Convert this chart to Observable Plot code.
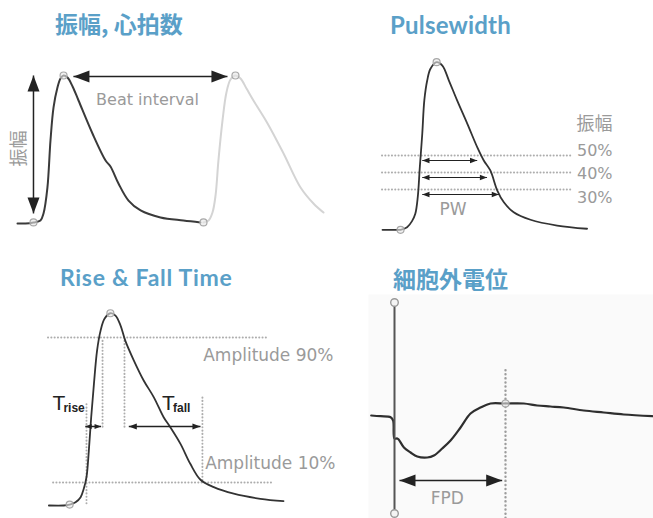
<!DOCTYPE html>
<html><head><meta charset="utf-8">
<script src="https://cdn.jsdelivr.net/npm/d3@7"></script>
<script src="https://cdn.jsdelivr.net/npm/@observablehq/plot@0.6"></script>
<style>
body{margin:0;background:#fff;}
#fig{position:relative;width:653px;height:518px;overflow:hidden;background:#fff;}
.panel{position:absolute;}
.title{position:absolute;color:#5aa0c8;font-weight:700;white-space:nowrap;line-height:1;z-index:2;}
.cjk{font-family:"Noto Sans CJK JP","Noto Sans CJK SC",sans-serif;font-size:23px;}
.lat{font-family:Lato,"Open Sans",sans-serif;}
</style></head><body>
<div id="fig"></div>
<script>
// ---------------- DATA ----------------
// Panel titles
const titles = ["振幅, 心拍数", "Pulsewidth", "Rise & Fall Time", "細胞外電位"];

// Panel 1: time (ms), normalized amplitude (0 = baseline, 1 = peak)
const beat1 = [[0,0],[47,0],[94,0.007],[135,0.02],[153,0.068],[176,0.243],[194,0.561],[212,0.784],[235,0.919],[253,0.98],[271,1],[294,0.986],[324,0.926],[359,0.831],[441,0.608],[518,0.426],[547,0.385],[594,0.27],[653,0.155],[724,0.088],[841,0.041],[976,0.02],[1076,0.007]];
const beat2 = [[1094,0.007],[1124,0.02],[1147,0.074],[1165,0.19],[1182,0.426],[1206,0.696],[1229,0.885],[1253,0.973],[1282,1],[1312,0.98],[1347,0.912],[1388,0.831],[1471,0.676],[1565,0.473],[1665,0.243],[1741,0.135],[1800,0.074]];
const beatMarks = [[94,0.007],[271,1],[1094,0.007],[1282,1]];
const beatInterval = [329, 1235];      // arrow between the two peaks (ms)
const amplitudeSpan = [0.068, 1.0];    // vertical amplitude arrow
const amplitudeTime = 94;

// Panel 2: time (ms), amplitude (%)
const pulse = [[0,6.3],[36,6.3],[44,6.3],[60,7.8],[72,11.4],[80,15.7],[86,25.5],[91,43.1],[97,62.8],[102,82.4],[109,94.1],[117,101],[132,104.9],[146,102.9],[162,94.1],[182,82.4],[207,68.6],[231,54.9],[247,47.1],[263,41.2],[280,29.4],[296,22.5],[320,16.6],[361,12.2],[426,8.8],[499,6.9]];
const pulseMarks = [[44,6.3],[132,104.9]];
const pwLevels = [50, 40, 30];
const pwLevelLabels = ["50%", "40%", "30%"];
const pwStart = [97, 97, 97];
const pwEnd = [231, 255, 284];
const pwLineSpan = [0, 463];

// Panel 3: time (ms), amplitude (%)
const riseFall = [[1,-2.7],[39,-2.7],[54,-2.2],[69,-0.9],[82,1.9],[90,6.5],[97,12.9],[103,27.6],[109,46],[116,64.4],[124,82.8],[133,93.8],[143,100.3],[158,103.4],[171,102.1],[184,96.6],[196,88.3],[218,77.3],[243,66.3],[269,57],[294,46],[311,40.5],[337,31.3],[362,20.3],[388,11.5],[422,7.4],[473,3.8],[541,1],[600,-0.3]];
const riseFallMarks = [[54,-2.2],[158,103.4]];
const ampLevels = [90, 10];
const ampLabels = ["Amplitude 90%", "Amplitude 10%"];
const ampLineFrom = [0, 13];
const ampLineTo = [559, 574];
const crossTimes = [97, 138, 194, 393];          // 10% rise, 90% rise, 90% fall, 10% fall
const crossFrom = [-1.8, 40.5, 40.5, 11];
const crossTo = [54.3, 89.1, 88, 57];
const tArrowLevel = 40.9;
const tRise = [94, 134];
const tFall = [205, 388];
const tLabels = ["rise", "fall"];
const tLabelTime = [10, 290];
const tLabelLevel = 50;

// Panel 4: time (ms), field potential (a.u.)
const fieldPot = [[-84,0.01],[-50,0.003],[-14,-0.007],[-5,-0.04],[0,-0.22],[10,-0.22],[15,-0.23],[34,-0.31],[58,-0.36],[82,-0.40],[118,-0.41],[142,-0.39],[172,-0.32],[202,-0.24],[238,-0.11],[274,0.03],[310,0.09],[346,0.13],[400,0.13],[466,0.13],[514,0.11],[562,0.10],[610,0.09],[682,0.06],[754,0.04],[826,0.02],[929,0.003]];
const spike = [-0.97, 1.14];
const fpdRange = [18, 388];
const fpdLevel = -0.64;
const fpdTime = 400;
const fpdDotted = [-1.1, 0.48];
const fpdMark = [[400, 0.13]];

// ---------------- LAYOUT / HELPERS ----------------
const head = { draw(ctx, size) { const r = Math.sqrt(size / Math.PI); const L = 2 * r, w = 0.75 * r; ctx.moveTo(0, 0); ctx.lineTo(w, L); ctx.lineTo(-w, L); ctx.closePath(); } };
const DARK = "#222";
const GRAY_TXT = "#9a9a9a";
const SANS = "DejaVu Sans, sans-serif";
const CJK = "Noto Sans CJK JP, sans-serif";
const X = d => d[0], Y = d => d[1];

function hArrows(rows, {r = 5, stroke = DARK, sw = 1.5, dy = 0} = {}) {
  return [
    Plot.link(rows, {x1: "x1", x2: "x2", y1: "y", y2: "y", stroke, strokeWidth: sw, dy}),
    Plot.dot(rows, {x: "x1", y: "y", r, symbol: head, rotate: 270, fill: stroke, stroke: "none", dy}),
    Plot.dot(rows, {x: "x2", y: "y", r, symbol: head, rotate: 90, fill: stroke, stroke: "none", dy})
  ];
}
function vArrows(rows, {r = 5, stroke = DARK, sw = 1.5} = {}) {
  return [
    Plot.link(rows, {x1: "x", x2: "x", y1: "y1", y2: "y2", stroke, strokeWidth: sw}),
    Plot.dot(rows, {x: "x", y: "y2", r, symbol: head, rotate: 0, fill: stroke, stroke: "none"}),
    Plot.dot(rows, {x: "x", y: "y1", r, symbol: head, rotate: 180, fill: stroke, stroke: "none"})
  ];
}
const markers = (data) => Plot.dot(data, {x: X, y: Y, r: 3.5, stroke: "#a8a8a8", strokeWidth: 1.2, fill: "#e8e8e8", fillOpacity: 0.6});
const dotted = {stroke: "#adadad", strokeWidth: 2, strokeDasharray: "0.1 3.2", strokeLinecap: "round"};
const baseStyle = {background: "transparent", overflow: "visible"};

// Panel 1
const p1 = Plot.plot({
  width: 330, height: 250, margin: 0, style: baseStyle,
  x: {domain: [0, 1800], range: [17, 323], axis: null},
  y: {domain: [0, 1], range: [223, 75], axis: null},
  marks: [
    Plot.line(beat2, {x: X, y: Y, stroke: "#d4d4d4", strokeWidth: 2, curve: "catmull-rom"}),
    Plot.line(beat1, {x: X, y: Y, stroke: "#3a3a3a", strokeWidth: 2, curve: "catmull-rom"}),
    markers(beatMarks),
    ...hArrows([{x1: beatInterval[0], x2: beatInterval[1], y: 0.993}], {r: 8, sw: 1.5}),
    ...vArrows([{x: amplitudeTime, y1: amplitudeSpan[0], y2: amplitudeSpan[1]}], {r: 8, sw: 1.5}),
    Plot.text(["Beat interval"], {x: 765, y: 0.833, text: d => d, fill: GRAY_TXT, fontSize: 16, fontFamily: SANS}),
    Plot.text(["振幅"], {x: 8, y: 0.507, text: d => d, rotate: -90, fill: GRAY_TXT, fontSize: 18, fontFamily: CJK})
  ]
});

// Panel 2
const pwRows = pwLevels.map((v, i) => ({x1: pwStart[i], x2: pwEnd[i], y: v}));
const pwLabelDy = [-5, 1, 8];
const p2 = Plot.plot({
  width: 323, height: 250, margin: 0, style: baseStyle,
  x: {domain: [0, 500], range: [52, 257], axis: null},
  y: {domain: [0, 100], range: [240, 70], axis: null},
  marks: [
    Plot.ruleY(pwLevels, {y: d => d, x1: pwLineSpan[0], x2: pwLineSpan[1], ...dotted}),
    Plot.line(pulse, {x: X, y: Y, stroke: "#333", strokeWidth: 1.8, curve: "catmull-rom"}),
    markers(pulseMarks),
    ...hArrows(pwRows, {r: 3.6, sw: 1, dy: 5}),
    Plot.text(["PW"], {x: 172, y: 18, text: d => d, fill: GRAY_TXT, fontSize: 17, fontFamily: SANS}),
    Plot.text(["振幅"], {x: 561, y: 68.2, text: d => d, textAnchor: "end", fill: GRAY_TXT, fontSize: 18, fontFamily: CJK}),
    ...pwLevels.map((v, i) => Plot.text([pwLevelLabels[i]], {x: 561, y: v, dy: pwLabelDy[i], text: d => d, textAnchor: "end", fill: GRAY_TXT, fontSize: 16, fontFamily: SANS}))
  ]
});

// Panel 3
const crossRows = crossTimes.map((t, i) => ({x: t, y1: crossFrom[i], y2: crossTo[i]}));
const p3 = Plot.plot({
  width: 350, height: 268, margin: 0, style: baseStyle,
  x: {domain: [0, 600], range: [48, 283], axis: null},
  y: {domain: [0, 100], range: [250.1, 68.9], axis: null},
  marks: [
    Plot.ruleY(ampLevels, {y: d => d, x1: (d, i) => ampLineFrom[i], x2: (d, i) => ampLineTo[i], ...dotted}),
    Plot.ruleX(crossRows, {x: "x", y1: "y1", y2: "y2", ...dotted}),
    Plot.line(riseFall, {x: X, y: Y, stroke: "#333", strokeWidth: 1.8, curve: "catmull-rom"}),
    markers(riseFallMarks),
    ...hArrows([{x1: tRise[0], x2: tRise[1], y: tArrowLevel}], {r: 3.2, sw: 1.5}),
    ...hArrows([{x1: tFall[0], x2: tFall[1], y: tArrowLevel}], {r: 4, sw: 1.5}),
    Plot.text(tLabels, {x: (d, i) => tLabelTime[i], y: tLabelLevel, text: () => "T", textAnchor: "start", lineAnchor: "bottom", fill: DARK, fontSize: 21, fontFamily: "Liberation Sans Narrow, Liberation Sans, sans-serif"}),
    Plot.text(tLabels, {x: (d, i) => tLabelTime[i], y: tLabelLevel, text: d => d, dx: 11, dy: 2, textAnchor: "start", lineAnchor: "bottom", fill: DARK, fontSize: 12, fontWeight: "bold", fontFamily: "Liberation Sans Narrow, Liberation Sans, sans-serif"}),
    Plot.text(ampLabels, {x: (d, i) => [395, 400][i], y: (d, i) => [80, 20.5][i], text: d => d, textAnchor: "start", fill: GRAY_TXT, fontSize: 17, fontFamily: SANS})
  ]
});

// Panel 4
const p4 = Plot.plot({
  width: 303, height: 268, marginLeft: 18, marginTop: 44, marginRight: 0, marginBottom: 0, style: baseStyle,
  x: {domain: [0, 400], range: [44, 155], axis: null},
  y: {domain: [0, 1], range: [166, 66], axis: null},
  marks: [
    Plot.frame({fill: "#fafafa", stroke: "none"}),
    Plot.ruleX([fpdTime], {x: d => d, y1: fpdDotted[0], y2: fpdDotted[1], stroke: "#9c9c9c", strokeWidth: 2.4, strokeDasharray: "0.1 4", strokeLinecap: "round"}),
    Plot.line(fieldPot, {x: X, y: Y, stroke: "#2e2e2e", strokeWidth: 2.2, curve: "catmull-rom"}),
    Plot.ruleX([0], {x: d => d, y1: spike[0], y2: spike[1], stroke: "#555", strokeWidth: 2}),
    Plot.dot(spike, {x: 0, y: d => d, r: 3.8, stroke: "#999", strokeWidth: 1.4, fill: "#f4f4f4"}),
    markers(fpdMark),
    ...hArrows([{x1: fpdRange[0], x2: fpdRange[1], y: fpdLevel}], {r: 8, sw: 1.5}),
    Plot.text(["FPD"], {x: 190, y: -0.82, text: d => d, fill: GRAY_TXT, fontSize: 17, fontFamily: SANS})
  ]
});

// ---------------- ASSEMBLE ----------------
const fig = document.getElementById("fig");
const place = (el, left, top) => { el.classList.add("panel"); el.style.left = left + "px"; el.style.top = top + "px"; fig.appendChild(el); };
place(p1, 0, 0); place(p2, 330, 0); place(p3, 0, 250); place(p4, 350, 250);
const titleSpec = [
  {cls: "cjk", left: 55, top: 12, size: 23, ls: 0},
  {cls: "lat", left: 390, top: 13, size: 24, ls: 0.2},
  {cls: "lat", left: 60, top: 266.3, size: 23, ls: 0.7},
  {cls: "cjk", left: 393, top: 267, size: 23, ls: 0}
];
titles.forEach((t, i) => {
  const d = document.createElement("div");
  d.className = "title " + titleSpec[i].cls;
  d.textContent = t;
  d.style.left = titleSpec[i].left + "px";
  d.style.top = titleSpec[i].top + "px";
  d.style.fontSize = titleSpec[i].size + "px";
  d.style.letterSpacing = titleSpec[i].ls + "px";
  fig.appendChild(d);
});
</script>
</body></html>
